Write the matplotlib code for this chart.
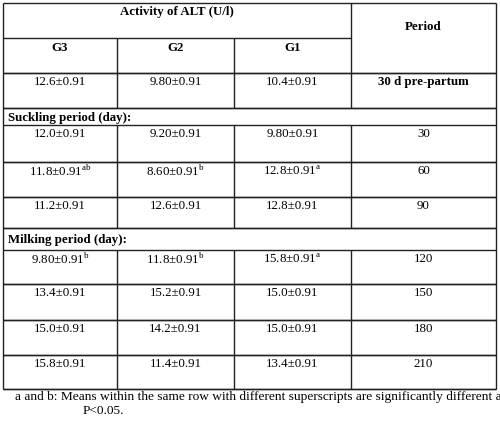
import matplotlib
matplotlib.use("Agg")
import matplotlib.pyplot as plt

plt.rcParams['font.family'] = ['Liberation Serif', 'DejaVu Serif']
plt.rcParams['mathtext.fontset'] = 'custom'
plt.rcParams['mathtext.rm'] = 'Liberation Serif'

groups = ["G3", "G2", "G1"]
periods = ["30 d pre-partum", "30", "60", "90", "120", "150", "180", "210"]
g3 = ["12.6±0.91", "12.0±0.91", "11.8±0.91", "11.2±0.91", "9.80±0.91", "13.4±0.91", "15.0±0.91", "15.8±0.91"]
g2 = ["9.80±0.91", "9.20±0.91", "8.60±0.91", "12.6±0.91", "11.8±0.91", "15.2±0.91", "14.2±0.91", "11.4±0.91"]
g1 = ["10.4±0.91", "9.80±0.91", "12.8±0.91", "12.8±0.91", "15.8±0.91", "15.0±0.91", "15.0±0.91", "13.4±0.91"]
sup3 = ["", "", "ab", "", "b", "", "", ""]
sup2 = ["", "", "b", "", "b", "", "", ""]
sup1 = ["", "", "a", "", "a", "", "", ""]
section_labels = {1: "Suckling period (day):", 4: "Milking period (day):"}
title = "Activity of ALT (U/l)"
footnote1 = "a and b: Means within the same row with different superscripts are significantly different at"
footnote2 = "P<0.05."

fig = plt.figure(figsize=(5, 4.24), dpi=100)
ax = fig.add_axes([0, 0, 1, 1])
ax.set_xlim(0, 500)
ax.set_ylim(424, 0)
ax.axis('off')

xs = [3, 117, 234, 351, 496]
rows = [(73, 108), (125, 162), (162, 197), (197, 228), (250, 284), (284, 320), (320, 355), (355, 389)]
bands = {1: (108, 125), 4: (228, 250)}
lw = 1.0
k = '#222222'
fs = 9.3

def hl(y, x0, x1):
    ax.plot([x0, x1], [y, y], color=k, lw=lw, solid_capstyle='butt')

def vl(x, y0, y1):
    ax.plot([x, x], [y0, y1], color=k, lw=lw, solid_capstyle='butt')

hl(3, xs[0], xs[-1])
hl(389, xs[0], xs[-1])
vl(xs[0], 3, 389)
vl(xs[-1], 3, 389)
hl(38, xs[0], xs[3])
hl(73, xs[0], xs[-1])
vl(xs[3], 3, 73)
for x in xs[1:3]:
    vl(x, 38, 73)

ax.text((xs[0] + xs[3]) / 2, 12, title, ha='center', va='center', fontsize=fs, fontweight='bold')
ax.text((xs[3] + xs[4]) / 2, 27, "Period", ha='center', va='center', fontsize=fs, fontweight='bold')
for i, g in enumerate(groups):
    ax.text((xs[i] + xs[i + 1]) / 2, 48, g, ha='center', va='center', fontsize=fs, fontweight='bold')

cols = [(g3, sup3), (g2, sup2), (g1, sup1)]
for r, (t, b) in enumerate(rows):
    if r in bands:
        bt, bb = bands[r]
        hl(bt, xs[0], xs[-1])
        ax.text(xs[0] + 5, (bt + bb) / 2 + 1, section_labels[r], ha='left', va='center', fontsize=fs, fontweight='bold')
    hl(t, xs[0], xs[-1])
    hl(b, xs[0], xs[-1])
    for x in xs[1:4]:
        vl(x, t, b)
    yt = t + 9
    for c, (vals, sups) in enumerate(cols):
        s = vals[r]
        if sups[r]:
            s = s + r"$^{\mathrm{" + sups[r] + "}}$"
        ax.text((xs[c] + xs[c + 1]) / 2, yt, s, ha='center', va='center', fontsize=fs)
    ax.text((xs[3] + xs[4]) / 2, yt, periods[r], ha='center', va='center', fontsize=fs,
            fontweight='bold' if r == 0 else 'normal')

ax.text(15, 397, footnote1, ha='left', va='center', fontsize=9.6)
ax.text(83, 411, footnote2, ha='left', va='center', fontsize=9.6)

fig.savefig("out.png", dpi=100)
